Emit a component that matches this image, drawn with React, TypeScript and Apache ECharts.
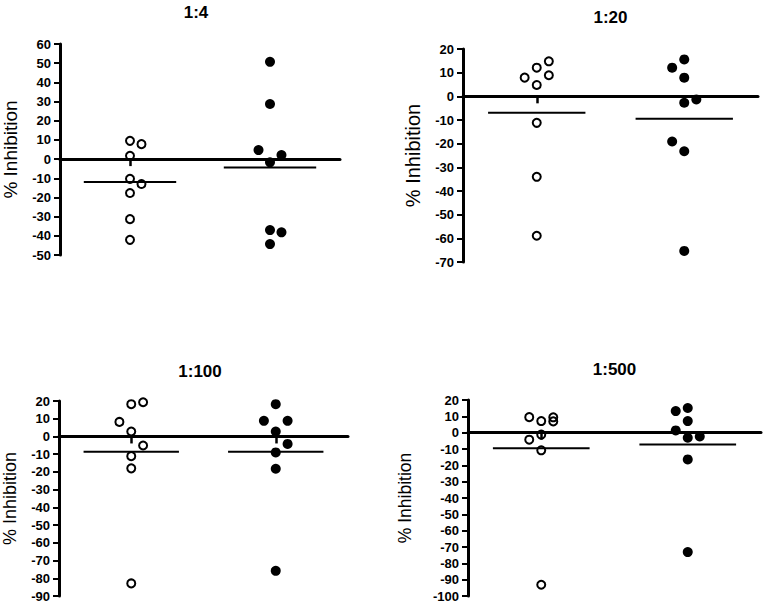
import React, { useEffect, useRef } from "react";
import * as echarts from "echarts";

// ---- data ----
const TITLES = ["1:4", "1:20", "1:100", "1:500"];
const Y_MIN = [-50, -70, -90, -100];
const Y_MAX = [60, 20, 20, 20];

// open circles (group 1)
const P1_OPEN = [9.5, 7.8, 1.7, -10.3, -13, -17.7, -31.3, -42.1];
const P1_OPEN_J = [0, 1, 0, 0, 1, 0, 0, 0];
const P2_OPEN = [14.8, 12.1, 8.9, 7.9, 4.8, -11.2, -34, -58.9];
const P2_OPEN_J = [1, 0, 1, -1, 0, 0, 0, 0];
const P3_OPEN = [19.3, 18.2, 8.2, 2.8, -5.1, -11.1, -18, -82.9];
const P3_OPEN_J = [1, 0, -1, 0, 1, 0, 0, 0];
const P4_OPEN = [9.5, 7.1, 9.4, 6.9, -1.2, -4.3, -10.8, -93.1];
const P4_OPEN_J = [-1, 0, 1, 1, 0, -1, 0, 0];

// filled circles (group 2)
const P1_FILLED = [50.7, 28.7, 4.7, 2.1, -1.7, -37, -38.2, -44.3];
const P1_FILLED_J = [0, 0, -1, 1, 0, 0, 1, 0];
const P2_FILLED = [15.6, 12.1, 7.9, -1.3, -2.7, -19.1, -23.2, -65.3];
const P2_FILLED_J = [0, -1, 0, 1, 0, -1, 0, 0];
const P3_FILLED = [18.2, 8.8, 8.8, 2.8, -4.2, -9.0, -18.2, -75.8];
const P3_FILLED_J = [0, -1, 1, 0, 1, 0, 0, 0];
const P4_FILLED = [15.1, 13.2, 7.1, 1.4, -3.1, -2.3, -16.4, -73.1];
const P4_FILLED_J = [0, -1, 0, -1, 0, 1, 0, 0];

const OPEN = [P1_OPEN, P2_OPEN, P3_OPEN, P4_OPEN];
const OPEN_J = [P1_OPEN_J, P2_OPEN_J, P3_OPEN_J, P4_OPEN_J];
const FILLED = [P1_FILLED, P2_FILLED, P3_FILLED, P4_FILLED];
const FILLED_J = [P1_FILLED_J, P2_FILLED_J, P3_FILLED_J, P4_FILLED_J];

// ---- layout ----
const GRIDS = [
  { left: 52, top: 44, width: 288, height: 211 },
  { left: 463, top: 49, width: 295, height: 213 },
  { left: 52, top: 401, width: 296, height: 195 },
  { left: 468, top: 400, width: 293, height: 196 },
];
const TITLE_TOP = [4, 9, 363, 361];
const NAME_GAP = [40, 40, 40, 54];
const NAME_SIZE = [19, 20, 18, 17.5];

const FONT = "Liberation Sans, Arial, Helvetica, sans-serif";
const C_OPEN = 0.25;
const C_FILLED = 0.75;
const JIT = 0.041;
const HALF = 0.165;

const mean = (a: number[]) => a.reduce((s, v) => s + v, 0) / a.length;

export default function App() {
  const ref = useRef<HTMLDivElement>(null);
  useEffect(() => {
    if (!ref.current) return;
    const chart = echarts.init(ref.current, null, { renderer: "svg" });
    const title: any[] = [];
    const grid: any[] = [];
    const xAxis: any[] = [];
    const yAxis: any[] = [];
    const series: any[] = [];
    for (let i = 0; i < 4; i++) {
      const g = GRIDS[i];
      grid.push({ ...g, containLabel: false });
      title.push({
        text: TITLES[i],
        left: g.left + g.width / 2,
        top: TITLE_TOP[i],
        textAlign: "center",
        padding: 0,
        textStyle: { fontFamily: FONT, fontSize: 17, fontWeight: "bold", color: "#000" },
      });
      xAxis.push({
        type: "value",
        gridIndex: i,
        min: 0,
        max: 1,
        axisLine: { show: true, onZero: true, lineStyle: { color: "#000", width: 3 } },
        axisTick: {
          show: true,
          customValues: [C_OPEN, C_FILLED],
          length: 7,
          lineStyle: { color: "#000", width: 2.5 },
        },
        axisLabel: { show: false },
        splitLine: { show: false },
      });
      yAxis.push({
        type: "value",
        gridIndex: i,
        min: Y_MIN[i],
        max: Y_MAX[i],
        interval: 10,
        axisLine: { show: true, onZero: false, lineStyle: { color: "#000", width: 3 } },
        axisTick: { show: true, length: 6, lineStyle: { color: "#000", width: 2 } },
        axisLabel: {
          fontFamily: FONT,
          fontSize: 13,
          fontWeight: "bold",
          color: "#000",
          margin: 9,
        },
        splitLine: { show: false },
        name: "% Inhibition",
        nameLocation: "middle",
        nameGap: NAME_GAP[i],
        nameTextStyle: { fontFamily: FONT, fontSize: NAME_SIZE[i], color: "#000" },
      });
      const mo = mean(OPEN[i]);
      const mf = mean(FILLED[i]);
      series.push({
        type: "line",
        xAxisIndex: i,
        yAxisIndex: i,
        data: [
          [C_OPEN - HALF, mo],
          [C_OPEN + HALF, mo],
        ],
        showSymbol: false,
        symbol: "none",
        lineStyle: { color: "#000", width: 2 },
        z: 2,
      });
      series.push({
        type: "line",
        xAxisIndex: i,
        yAxisIndex: i,
        data: [
          [C_FILLED - HALF, mf],
          [C_FILLED + HALF, mf],
        ],
        showSymbol: false,
        symbol: "none",
        lineStyle: { color: "#000", width: 2 },
        z: 2,
      });
      series.push({
        type: "scatter",
        xAxisIndex: i,
        yAxisIndex: i,
        data: OPEN[i].map((v, k) => [C_OPEN + OPEN_J[i][k] * JIT, v]),
        symbol: "circle",
        symbolSize: 8,
        itemStyle: {
          color: "rgba(255,255,255,0)",
          borderColor: "#000",
          borderWidth: 2,
          opacity: 1,
        },
        z: 3,
      });
      series.push({
        type: "scatter",
        xAxisIndex: i,
        yAxisIndex: i,
        data: FILLED[i].map((v, k) => [C_FILLED + FILLED_J[i][k] * JIT, v]),
        symbol: "circle",
        symbolSize: 10,
        itemStyle: { color: "#000", opacity: 1 },
        z: 3,
      });
    }
    chart.setOption({
      animation: false,
      backgroundColor: "#fff",
      title,
      grid,
      xAxis,
      yAxis,
      series,
    });
    return () => chart.dispose();
  }, []);
  return (
    <div
      ref={ref}
      style={{ position: "fixed", left: 0, top: 0, width: 766, height: 605, background: "#fff" }}
    />
  );
}
